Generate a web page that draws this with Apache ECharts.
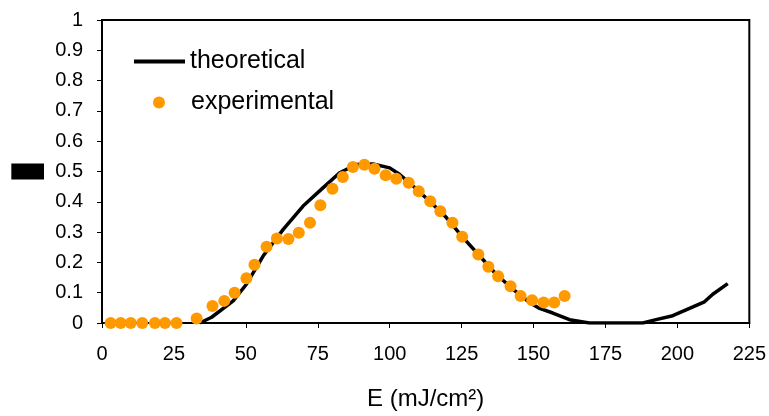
<!DOCTYPE html>
<html>
<head>
<meta charset="utf-8">
<script src="https://cdn.jsdelivr.net/npm/echarts@6/dist/echarts.min.js"></script>
<style>
  html, body { margin: 0; padding: 0; background: #fff; }
  #chart-container { width: 769px; height: 416px; }
</style>
</head>
<body>
<div id="chart-container"></div>
<script>
// theoretical curve, [E, value]
var theoreticalE = [34, 38.1, 45.6, 50.2, 56, 63, 69.9, 76.8, 82.6, 88.4, 94.2, 100, 103.5, 108.1,
    113.9, 119.7, 125.5, 131.3, 137, 142.8, 148.6, 152.1, 156.7, 162.5, 169.4, 188, 192.6, 198.4,
    204.2, 209.4, 212.3, 217.5];
var theoreticalY = [0, 0.019, 0.073, 0.128, 0.221, 0.309, 0.386, 0.446, 0.496, 0.523, 0.525, 0.512,
    0.49, 0.452, 0.402, 0.348, 0.282, 0.221, 0.161, 0.112, 0.068, 0.048, 0.033, 0.011, 0, 0, 0.011,
    0.024, 0.048, 0.07, 0.095, 0.13];

// experimental points
var experimentalE = [3, 6.5, 10, 14, 18.4, 21.9, 25.9, 32.9, 38.4, 42.5, 46.1, 50.2, 53, 57.2, 60.8,
    64.8, 68.4, 72.3, 75.9, 80.1, 83.7, 87.2, 91.2, 94.7, 98.6, 102.3, 106.6, 110.1, 114.1, 117.6,
    121.8, 125.2, 130.8, 134.3, 137.7, 142, 145.5, 149.5, 153.5, 157.2, 160.8];
var experimentalY = [0, 0, 0, 0, 0, 0, 0, 0.015, 0.056, 0.073, 0.1, 0.148, 0.192, 0.252, 0.279,
    0.277, 0.298, 0.331, 0.389, 0.443, 0.482, 0.515, 0.522, 0.509, 0.488, 0.476, 0.463, 0.435, 0.402,
    0.369, 0.331, 0.285, 0.226, 0.186, 0.154, 0.121, 0.089, 0.075, 0.068, 0.068, 0.089];

function pairs(xs, ys) {
    return xs.map(function (x, i) { return [x, ys[i]]; });
}

var dom = document.getElementById('chart-container');
var myChart = echarts.init(dom, null, { renderer: 'canvas' });

var font = 'Liberation Sans, Arial, sans-serif';

var option = {
    backgroundColor: '#fff',
    animation: false,
    textStyle: { fontFamily: font },
    grid: {
        left: 102, right: 19, top: 20, bottom: 92,
        show: true, borderColor: '#000', borderWidth: 2, backgroundColor: 'transparent'
    },
    legend: [
        {
            data: [{ name: 'theoretical', icon: 'path://M0,0L51,0L51,4L0,4Z' }],
            left: 134, top: 49, padding: 0,
            itemWidth: 51, itemHeight: 4,
            textStyle: { fontSize: 25, color: '#000', fontFamily: font }
        },
        {
            data: [{ name: 'experimental', icon: 'circle' }],
            left: 153, top: 90, padding: 0,
            itemWidth: 12, itemHeight: 12,
            textStyle: { fontSize: 25, color: '#000', fontFamily: font, padding: [0, 0, 0, 21] }
        }
    ],
    xAxis: {
        type: 'value',
        min: 0, max: 225, interval: 25,
        name: 'E (mJ/cm²)',
        nameLocation: 'middle',
        nameGap: 64,
        nameTextStyle: { fontSize: 24, color: '#000', fontFamily: font },
        axisLine: { lineStyle: { color: '#000', width: 2 } },
        axisTick: { show: true, length: 5, lineStyle: { color: '#000', width: 1 } },
        axisLabel: { fontSize: 20, color: '#000', margin: 21 },
        splitLine: { show: false }
    },
    yAxis: {
        type: 'value',
        min: 0, max: 1, interval: 0.1,
        name: 'R',
        nameLocation: 'middle',
        nameGap: 58,
        nameRotate: 0,
        nameTextStyle: {
            color: '#000', backgroundColor: '#000',
            fontSize: 12, lineHeight: 12, padding: [4, 12, 0, 12]
        },
        axisLine: { lineStyle: { color: '#000', width: 2 } },
        axisTick: { show: true, length: 5, lineStyle: { color: '#000', width: 1 } },
        axisLabel: { fontSize: 20, color: '#000', margin: 19 },
        splitLine: { show: false }
    },
    series: [
        {
            name: 'theoretical',
            type: 'line',
            data: pairs(theoreticalE, theoreticalY),
            symbol: 'none',
            lineStyle: { color: '#000', width: 3.5 },
            itemStyle: { color: '#000' },
            z: 2
        },
        {
            name: 'experimental',
            type: 'scatter',
            data: pairs(experimentalE, experimentalY),
            symbol: 'circle',
            symbolSize: 12,
            itemStyle: { color: '#FF9900', opacity: 1 },
            z: 3
        }
    ]
};

if (option && typeof option === 'object') {
    myChart.setOption(option);
}

window.addEventListener('resize', myChart.resize);
</script>
</body>
</html>
